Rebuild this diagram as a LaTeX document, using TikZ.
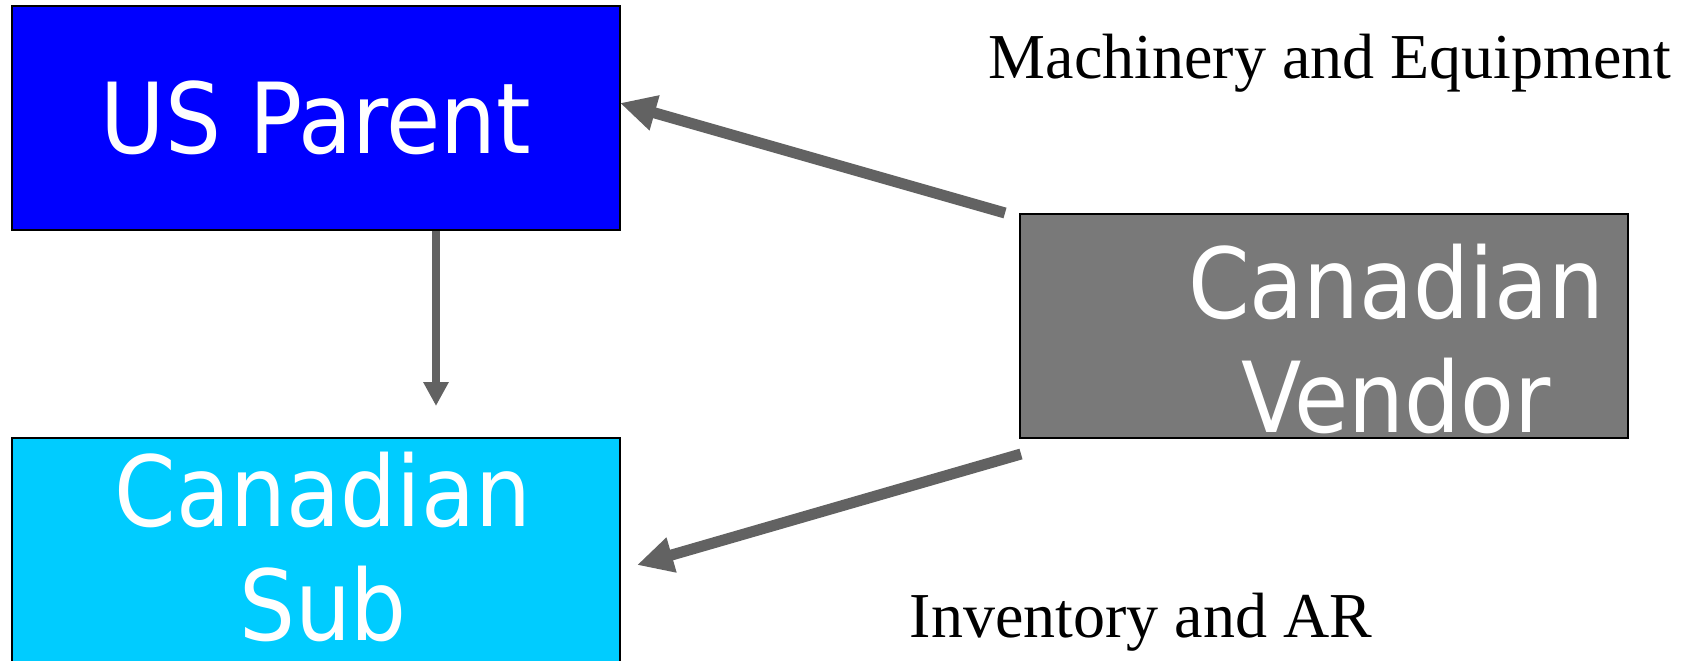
\documentclass[tikz,border=0pt]{standalone}
\usepackage{fontspec}
\setmainfont{Liberation Serif}
\newfontfamily\boxfont[FakeStretch=0.9]{DejaVu Sans}
\usetikzlibrary{arrows.meta}
\definecolor{parentblue}{RGB}{0,0,255}
\definecolor{subcyan}{RGB}{0,204,255}
\definecolor{vendorgray}{RGB}{121,121,121}
\definecolor{arrowgray}{RGB}{98,98,98}

\begin{document}
\begin{tikzpicture}[x=0.5pt,y=-0.5pt,
  entity/.style={draw=black, line width=1pt, inner sep=0pt, rectangle,
    minimum width=304pt, minimum height=112pt},
  boxlabel/.style={font=\boxfont\fontsize{49}{57}\selectfont, text=white, inner sep=0pt},
  flowlabel/.style={font=\fontsize{32}{38}\selectfont, text=black, inner sep=0pt, anchor=base},
  thinflow/.style={draw=arrowgray, line width=4pt, -{Triangle[length=12pt,width=12pt]}},
  thickflow/.style={draw=arrowgray, line width=5.5pt, -{Triangle[length=18pt,width=17pt]}}]

\clip (0,0) rectangle (1692,660);

% entities
\node[entity, fill=parentblue, boxlabel] (parent) at (316,118) {US Parent};
\node[entity, fill=subcyan] (sub) at (316,550) {};
\node[entity, fill=vendorgray] (vendor) at (1324,326) {};

\node[boxlabel, anchor=base] (sub1) at (323,526) {Canadian};
\node[boxlabel, anchor=base] (sub2) at (323,640) {Sub};
\node[boxlabel, anchor=base] (ven1) at (1396,318) {Canadian};
\node[boxlabel, anchor=base] (ven2) at (1396,432) {Vendor};

% flow labels
\node[flowlabel] (mach) at (1330,78) {Machinery and Equipment};
\node[flowlabel] (inv) at (1141,637) {Inventory and AR};

% arrow ends
\coordinate (downtip) at (436,406);
\coordinate (machstart) at (1005,213);
\coordinate (machtip) at (620,103);
\coordinate (invstart) at (1021,454);
\coordinate (invtip) at (637,565);

% flows
\draw[thinflow] (parent.south -| downtip) -- (downtip);
\draw[thickflow] (machstart) -- (machtip);
\draw[thickflow] (invstart) -- (invtip);
\end{tikzpicture}
\end{document}
